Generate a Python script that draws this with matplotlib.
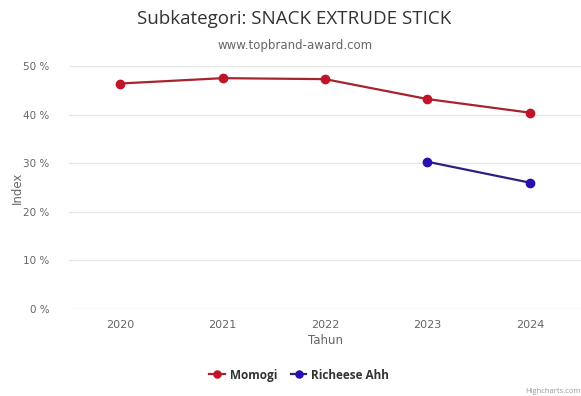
import matplotlib
matplotlib.use('Agg')
import matplotlib.pyplot as plt
import matplotlib.ticker as ticker

years = ['2020', '2021', '2022', '2023', '2024']
momogi = [46.4, 47.5, 47.3, 43.2, 40.4]
richeese_years = ['2023', '2024']
richeese = [30.3, 26.0]
yticks = [0, 10, 20, 30, 40, 50]

plt.rcParams['font.family'] = ['Open Sans', 'DejaVu Sans']

fig = plt.figure(figsize=(5.81, 3.96), dpi=100)
ax = fig.add_axes([0.119, 0.2197, 0.881, 0.6136])

x_all = list(range(len(years)))
x_rich = [years.index(y) for y in richeese_years]

ax.plot(x_all, momogi, color='#a8232f', lw=1.6, marker='o', ms=6,
        mfc='#c0142a', mec='#c0142a', label='Momogi', zorder=3)
ax.plot(x_rich, richeese, color='#2b2180', lw=1.6, marker='o', ms=6,
        mfc='#2a0fae', mec='#2a0fae', label='Richeese Ahh', zorder=3)

ax.set_xlim(-0.5, len(years) - 0.5)
ax.set_ylim(0, 50)
ax.set_yticks(yticks)
ax.yaxis.set_major_formatter(ticker.FuncFormatter(lambda v, p: f'{int(v)} %'))
ax.set_xticks(x_all)
ax.set_xticklabels(years)
ax.grid(axis='y', color='#e6e6e6', lw=1)
ax.set_axisbelow(True)
for s in ax.spines.values():
    s.set_visible(False)
ax.tick_params(axis='both', length=0, colors='#666666', labelsize=8)
ax.tick_params(axis='y', pad=14)
ax.tick_params(axis='x', pad=8)
for lbl in ax.get_xticklabels() + ax.get_yticklabels():
    lbl.set_family('DejaVu Sans')
for lbl in ax.get_yticklabels():
    lbl.set_fontsize(7.5)

ax.set_xlabel('Tahun', color='#666666', fontsize=8.5, labelpad=3, family='DejaVu Sans')
ax.set_ylabel('Index', color='#666666', fontsize=8.5, labelpad=4, family='DejaVu Sans')
ax.yaxis.set_label_coords(-0.088, 0.5)

fig.text(0.507, 0.952, 'Subkategori: SNACK EXTRUDE STICK', ha='center', va='center',
         fontsize=13.5, color='#333333')
fig.text(0.507, 0.884, 'www.topbrand-award.com', ha='center', va='center',
         fontsize=8.5, color='#666666', family='DejaVu Sans')

leg = fig.legend(loc='center', bbox_to_anchor=(0.515, 0.053), ncols=2, frameon=False,
                 prop={'weight': 'bold', 'size': 8.5}, handlelength=1.3,
                 handletextpad=0.4, columnspacing=1.2, markerscale=0.85)
for t in leg.get_texts():
    t.set_color('#333333')

fig.text(0.999, 0.003, 'Highcharts.com', ha='right', va='bottom', fontsize=5.5, color='#999999')

fig.savefig('out.png', dpi=100)
